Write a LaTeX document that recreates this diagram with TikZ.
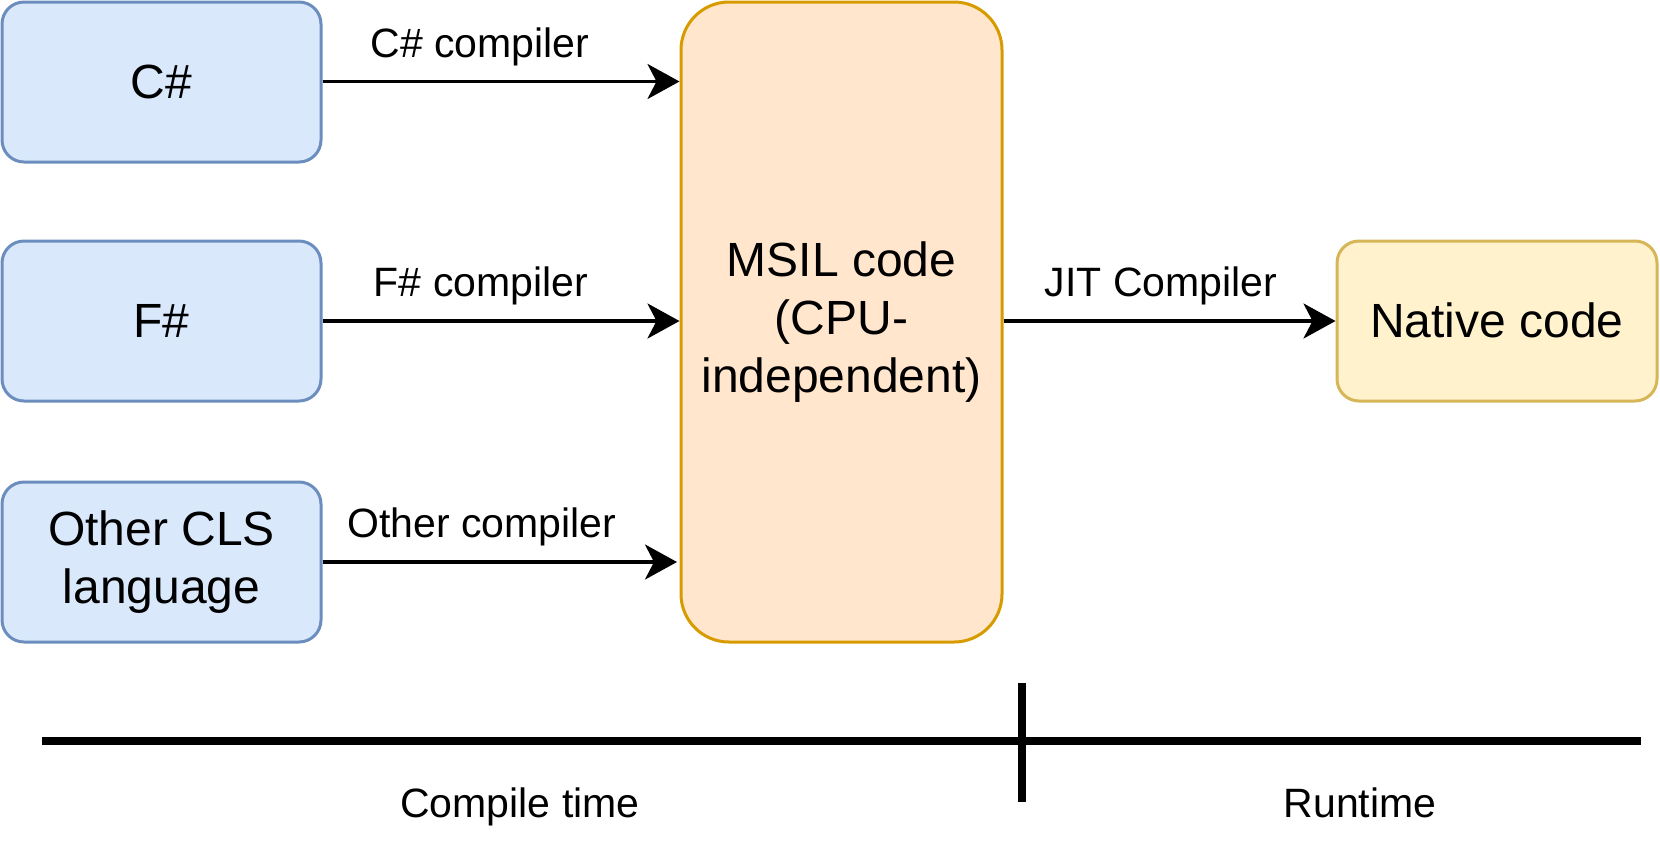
\documentclass[tikz,border=0pt]{standalone}
\usepackage{fontspec}
\setmainfont{Liberation Sans}
\usetikzlibrary{arrows.meta}
\definecolor{bluefill}{HTML}{DAE8FC}
\definecolor{bluedraw}{HTML}{6C8EBF}
\definecolor{orfill}{HTML}{FFE6CC}
\definecolor{ordraw}{HTML}{D79B00}
\definecolor{yefill}{HTML}{FFF2CC}
\definecolor{yedraw}{HTML}{D6B656}
\begin{document}
\begin{tikzpicture}[x=0.5pt,y=-0.5pt,
  boxtext/.style={align=center,inner sep=0pt,font=\fontsize{24}{29}\selectfont},
  oneline/.style={text height=18pt,text depth=2pt},
  langbox/.style={boxtext,draw=bluedraw,fill=bluefill,line width=1.5pt,rounded corners=11pt,minimum width=159.5pt,minimum height=80pt},
  msilbox/.style={boxtext,draw=ordraw,fill=orfill,line width=1.5pt,rounded corners=24pt,minimum width=160.5pt,minimum height=320pt},
  nativebox/.style={boxtext,draw=yedraw,fill=yefill,line width=1.5pt,rounded corners=11pt,minimum width=160pt,minimum height=80pt},
  lbl/.style={inner sep=0pt,anchor=base,font=\fontsize{20.5}{24}\selectfont},
  conn/.style={line width=1.75pt,-{Stealth[length=16pt,width=17.5pt,inset=4.5pt]}},
  timeline/.style={line width=3.75pt}
]
\useasboundingbox (0,0) rectangle (1660,848);

\node[langbox,oneline] (cs) at (161.5,82) {C\#};
\node[langbox,oneline] (fs) at (161.5,321) {F\#};
\node[langbox] (other) at (161.5,562) {Other CLS\\language};
\node[msilbox] (msil) at (841.5,322) {MSIL code\\(CPU-\\independent)};
\node[nativebox,oneline] (native) at (1497,321) {Native code};

\coordinate (otherend) at (677,562);

\draw[conn] (cs.east |- 0,81.5) -- (msil.west |- 0,81.5);
\draw[conn] (fs.east) -- (msil.west |- fs.east);
\draw[conn] (other.east) -- (otherend);
\draw[conn] (msil.east |- native.west) -- (native.west);

\node[lbl] (lcs) at (480,57) {C\# compiler};
\node[lbl] (lfs) at (481,296) {F\# compiler};
\node[lbl] (lother) at (482,537) {Other compiler};
\node[lbl] (ljit) at (1161,296) {JIT Compiler};

\coordinate (tl) at (42,741);
\coordinate (tr) at (1641,741);
\coordinate (tt) at (1022,683);
\coordinate (tb) at (1022,802);
\draw[timeline] (tl) -- (tr);
\draw[timeline] (tt) -- (tb);

\node[lbl] (lcompile) at (520,817) {Compile time};
\node[lbl] (lrun) at (1360,817) {Runtime};
\end{tikzpicture}
\end{document}
